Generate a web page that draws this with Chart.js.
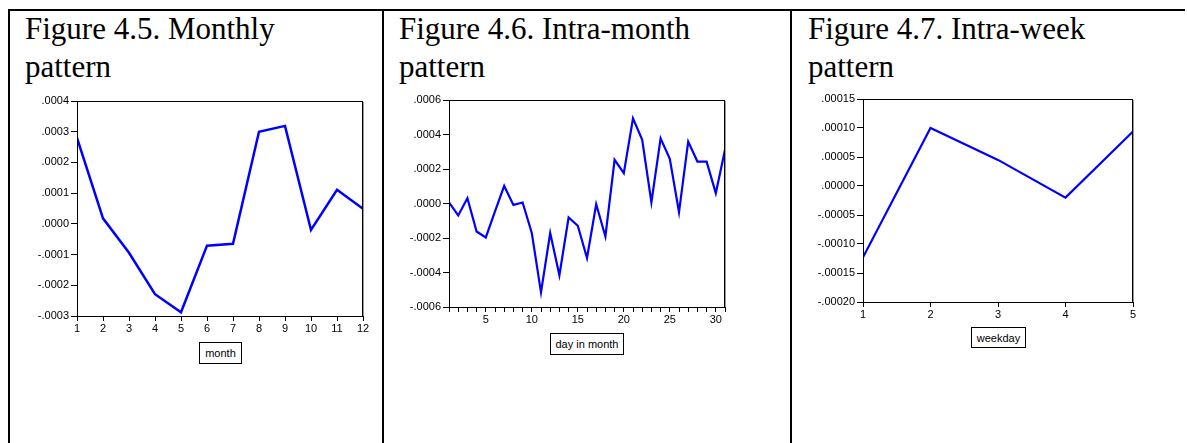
<!DOCTYPE html>
<html lang="en">
<head>
  <meta charset="UTF-8" />
  <title>Seasonal patterns</title>
  <script src="https://cdn.jsdelivr.net/npm/chart.js"></script>
  <style>
    body { margin: 0; background: #fff; }
    #page { position: relative; width: 1187px; height: 443px; overflow: hidden; background: #fff; }
    .rule { position: absolute; background: #000; }
    .title {
      position: absolute; top: 10px; margin: 0;
      font-family: "Liberation Serif", "Times New Roman", serif;
      font-size: 31px; line-height: 37.5px; font-weight: normal; color: #000;
    }
    canvas { position: absolute; }
    .axis-name {
      position: absolute; box-sizing: border-box;
      border: 1px solid #000; background: #fff;
      font: 11px "Liberation Sans", Arial, sans-serif; color: #000;
      display: flex; align-items: center; justify-content: center;
    }
  </style>
</head>
<body>
  <div id="page">
    <!-- table rules -->
    <div class="rule" style="left:8px; top:9px; width:1177px; height:2px;"></div>
    <div class="rule" style="left:8px; top:9px; width:2px; height:434px;"></div>
    <div class="rule" style="left:382px; top:9px; width:2px; height:434px;"></div>
    <div class="rule" style="left:790px; top:9px; width:2px; height:434px;"></div>

    <h2 class="title" style="left:25px;">Figure 4.5. Monthly<br/>pattern</h2>
    <h2 class="title" style="left:399px;">Figure 4.6. Intra-month<br/>pattern</h2>
    <h2 class="title" style="left:808px;">Figure 4.7. Intra-week<br/>pattern</h2>

    <canvas id="monthChart" width="360" height="250" style="left:17px; top:90px;"></canvas>
    <canvas id="dayChart" width="360" height="245" style="left:390px; top:90px;"></canvas>
    <canvas id="weekChart" width="370" height="245" style="left:800px; top:90px;"></canvas>

    <div class="axis-name" style="left:199px; top:342px; width:43px; height:22px;">month</div>
    <div class="axis-name" style="left:550px; top:333px; width:74px; height:22px;">day in month</div>
    <div class="axis-name" style="left:971px; top:327px; width:55px; height:21px;">weekday</div>
  </div>

  <script>
    // Monthly effect
    const months = [1, 2, 3, 4, 5, 6, 7, 8, 9, 10, 11, 12];
    const monthlyEffect = [0.00028, 0.000018, -0.000094, -0.000229, -0.000288, -0.000071,
                           -0.000065, 0.0003, 0.000319, -0.00002, 0.000111, 0.000049];
    const monthlyTicks = [-0.0003, -0.0002, -0.0001, 0, 0.0001, 0.0002, 0.0003, 0.0004];

    // Day-of-month effect
    const days = [1, 2, 3, 4, 5, 6, 7, 8, 9, 10, 11, 12, 13, 14, 15, 16,
                  17, 18, 19, 20, 21, 22, 23, 24, 25, 26, 27, 28, 29, 30, 31];
    const dayEffect = [0.000006, -0.000069, 0.000031, -0.000162, -0.000197, -0.000046,
                       0.000102, -0.000008, 0.000006, -0.000171, -0.000515, -0.000171,
                       -0.000416, -0.000081, -0.000129, -0.000316, -0.000004, -0.000191,
                       0.000253, 0.000176, 0.000494, 0.000369, 0.000006, 0.000378,
                       0.000259, -0.00005, 0.000359, 0.000243, 0.000243, 0.00006, 0.000311];
    const dayTicks = [-0.0006, -0.0004, -0.0002, 0, 0.0002, 0.0004, 0.0006];
    const dayLabels = [5, 10, 15, 20, 25, 30];

    // Weekday effect
    const weekdays = [1, 2, 3, 4, 5];
    const weekdayEffect = [-0.000123, 0.0001, 0.000045, -0.00002, 0.000094];
    const weekdayTicks = [-0.0002, -0.00015, -0.0001, -0.00005, 0, 0.00005, 0.0001, 0.00015];

    // draws the box around the plot area, with a faint shadow on the right
    const framePlugin = {
      id: 'frame',
      afterDraw(chart) {
        const { ctx, chartArea: a } = chart;
        const l = Math.round(a.left), t = Math.round(a.top);
        const r = Math.round(a.right), b = Math.round(a.bottom);
        ctx.save();
        ctx.lineWidth = 1;
        ctx.strokeStyle = '#999';
        ctx.beginPath();
        ctx.moveTo(r + 0.5, t + 1);
        ctx.lineTo(r + 0.5, b);
        ctx.stroke();
        ctx.strokeStyle = '#000';
        ctx.strokeRect(l + 0.5, t + 0.5, r - l - 1, b - t);
        ctx.restore();
      }
    };

    // ".0004", "-.00015" style
    function shortDecimal(v, digits) {
      if (Math.abs(v) < 1e-12) v = 0;
      return v.toFixed(digits).replace(/^(-?)0\./, '$1.');
    }

    function makeChart(id, xs, ys, cfg) {
      const font = { family: '"Liberation Sans", Arial, sans-serif', size: 11 };
      return new Chart(document.getElementById(id), {
        type: 'line',
        data: {
          datasets: [{
            data: xs.map((x, i) => ({ x: x, y: ys[i] })),
            borderColor: '#0000ff',
            borderWidth: cfg.lineWidth,
            pointRadius: 0,
            tension: 0,
            fill: false
          }]
        },
        options: {
          responsive: false,
          animation: false,
          layout: { padding: { top: cfg.padTop, right: cfg.padRight, left: 0, bottom: 0 } },
          plugins: { legend: { display: false }, tooltip: { enabled: false } },
          scales: {
            x: {
              type: 'linear',
              min: xs[0],
              max: xs[xs.length - 1],
              afterBuildTicks: s => { s.ticks = xs.map(v => ({ value: v })); },
              afterFit: s => { s.height = cfg.xHeight; },
              grid: { drawOnChartArea: false, drawTicks: true, tickLength: 5, color: '#000' },
              border: { display: true, color: '#000', width: 1 },
              ticks: {
                autoSkip: false, maxRotation: 0, padding: 1, color: '#000', font: font,
                callback: v => (cfg.xLabels ? (cfg.xLabels.includes(v) ? String(v) : '') : String(v))
              }
            },
            y: {
              min: cfg.yTicks[0],
              max: cfg.yTicks[cfg.yTicks.length - 1],
              afterBuildTicks: s => { s.ticks = cfg.yTicks.map(v => ({ value: v })); },
              afterFit: s => { s.width = cfg.yWidth; },
              grid: { drawOnChartArea: false, drawTicks: true, tickLength: 6, color: '#000' },
              border: { display: true, color: '#000', width: 1 },
              ticks: {
                padding: 2, color: '#000', font: font,
                callback: v => shortDecimal(v, cfg.digits)
              }
            }
          }
        },
        plugins: [framePlugin]
      });
    }

    makeChart('monthChart', months, monthlyEffect, {
      yTicks: monthlyTicks, digits: 4, lineWidth: 2.5,
      padTop: 11, padRight: 14, yWidth: 60, xHeight: 24
    });

    makeChart('dayChart', days, dayEffect, {
      yTicks: dayTicks, digits: 4, lineWidth: 2.2, xLabels: dayLabels,
      padTop: 10, padRight: 25, yWidth: 59, xHeight: 28
    });

    makeChart('weekChart', weekdays, weekdayEffect, {
      yTicks: weekdayTicks, digits: 5, lineWidth: 2.2,
      padTop: 9, padRight: 37, yWidth: 63, xHeight: 33
    });
  </script>
</body>
</html>
